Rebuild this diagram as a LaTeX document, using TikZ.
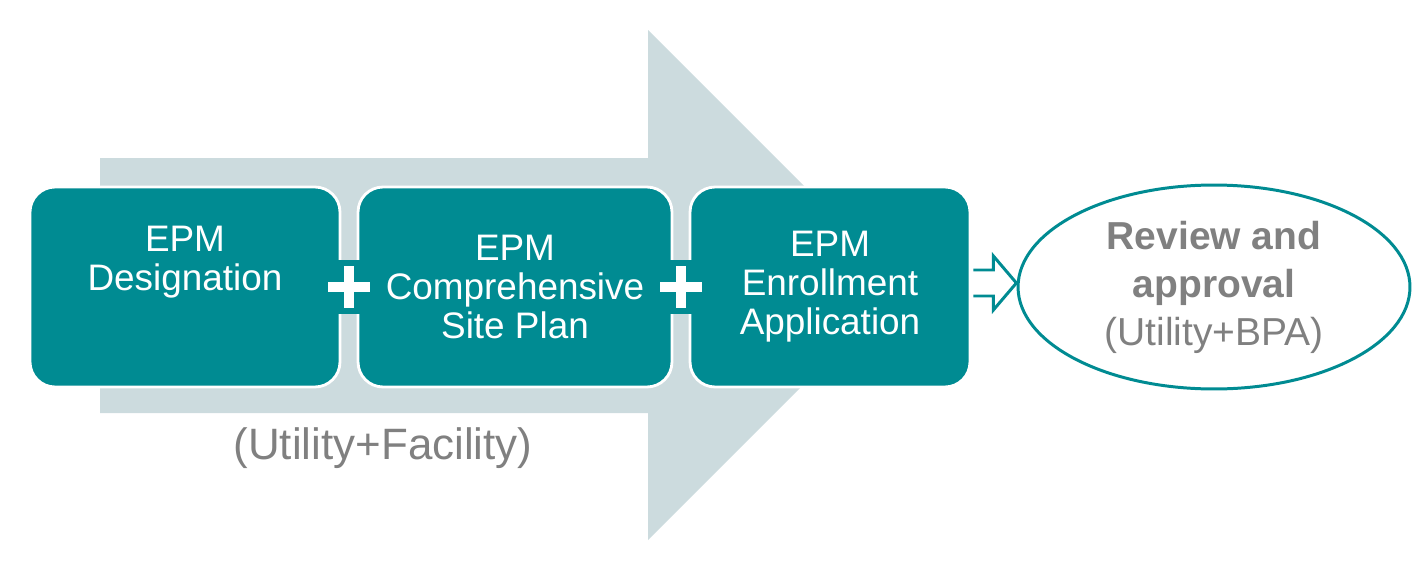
\documentclass[tikz,border=0pt]{standalone}
\usepackage{fontspec}
\setmainfont{Liberation Sans}
\usepackage{tikz}
\usetikzlibrary{shapes,calc,positioning}
\definecolor{epmteal}{RGB}{0,139,146}
\definecolor{arrowgray}{RGB}{204,219,222}
\definecolor{textgray}{RGB}{128,128,128}

\begin{document}
\begin{tikzpicture}[x=0.02cm, y=-0.02cm,
	stepbox/.style={rectangle, rounded corners=0.5cm, fill=epmteal, draw=white, line width=1.6pt, minimum height=4cm},
	boxtext/.style={text=white, align=center, font=\fontsize{21}{22.2}\selectfont},
	plusmark/.style={fill=white, draw=epmteal, line width=3pt},
	graytext/.style={text=textgray, align=center}]
	\useasboundingbox (0,0) rectangle (1426,578);
	% big arrow behind the steps
	\fill[arrowgray] (100,158) -- (648,158) -- (648,30) -- (903,285) -- (648,540) -- (648,413) -- (100,413) -- cycle;
	\node[stepbox, minimum width=6.2cm] (desig) at (185,287) {};
	\node[boxtext] (desigtext) at (185,262) {EPM\\Designation};
	\node[stepbox, boxtext, minimum width=6.28cm] (plan) at (515,287) {EPM\\Comprehensive\\Site Plan};
	\node[stepbox, boxtext, minimum width=5.6cm] (enroll) at (830,287) {EPM\\Enrollment\\Application};
	\node[graytext, font=\fontsize{25}{30}\selectfont] (who) at (383,448) {(Utility+Facility)};
	% plus signs
	\coordinate (p1) at ($(desig.east)!0.5!(plan.west)$);
	\coordinate (p2) at ($(plan.east)!0.5!(enroll.west)$);
	\foreach \p in {p1,p2}
	  \draw[plusmark, shift={(\p)}] (-8,-24) -- (8,-24) -- (8,-8) -- (24,-8) -- (24,8) -- (8,8) -- (8,24) -- (-8,24) -- (-8,8) -- (-24,8) -- (-24,-8) -- (-8,-8) -- cycle;
	% review
	\node[ellipse, draw=epmteal, line width=1.7pt, minimum width=7.84cm, minimum height=4.08cm, graytext, font=\fontsize{22.2}{27.3}\selectfont] (review) at (1214,287) {\textbf{Review and}\\\textbf{approval}\\(Utility+BPA)};
	\filldraw[fill=white, draw=epmteal, line width=1.7pt] ($(enroll.east)+(2,-17)$) -- ++(20,0) -- ++(0,-14) -- ++(23,27) -- ++(-23,27) -- ++(0,-14) -- ++(-20,0);
\end{tikzpicture}
\end{document}
